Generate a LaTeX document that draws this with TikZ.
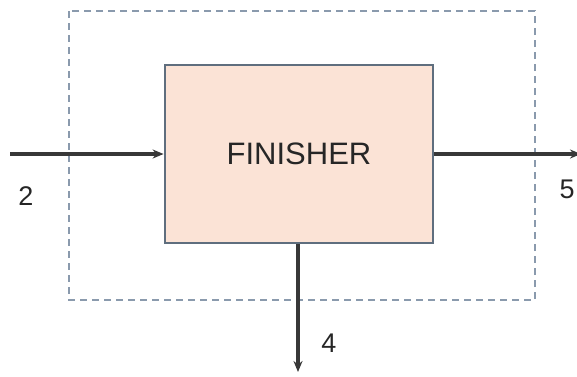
\documentclass[tikz,border=0pt]{standalone}
\usepackage{fontspec}
\setmainfont{Liberation Sans}
\usetikzlibrary{arrows.meta, positioning}
\definecolor{boxfill}{HTML}{FBE3D6}
\definecolor{boxline}{HTML}{5F6E7E}
\definecolor{dashline}{HTML}{8A9AAD}
\definecolor{flowline}{HTML}{383838}
\tikzset{
    x=1pt, y=-1pt,
    >={Stealth[length=11pt, width=9pt]},
    unit/.style={draw=boxline, line width=2.8pt, fill=boxfill,
        minimum width=268pt, minimum height=178pt, font=\fontsize{31}{31}\selectfont, text=black!85},
    stream/.style={->, draw=flowline, line width=3.2pt},
    streamno/.style={font=\fontsize{27}{27}\selectfont, text=black!85},
    envelope/.style={draw=dashline, line width=2.6pt, dash pattern=on 7pt off 5pt},
}

\begin{document}
\begin{tikzpicture}
        \useasboundingbox (0,0) rectangle (577,376);
        \draw[envelope] (69,11) rectangle (535,300);
        \node[unit] (finisher) at (299,154) {FINISHER};

        \coordinate (feed) at (10,154);
        \coordinate (product) at (581,154);
        \coordinate (waste) at (298,372);

        \node[streamno] (s2) at (26,196) {2};
        \node[streamno] (s5) at (567,189) {5};
        \node[streamno] (s4) at (329,343) {4};

        \draw[stream] (feed) -- (finisher.west);
        \draw[stream] (finisher.east) -- (product);
        \draw[stream] (finisher.south -| waste) -- (waste);
    \end{tikzpicture}
\end{document}
